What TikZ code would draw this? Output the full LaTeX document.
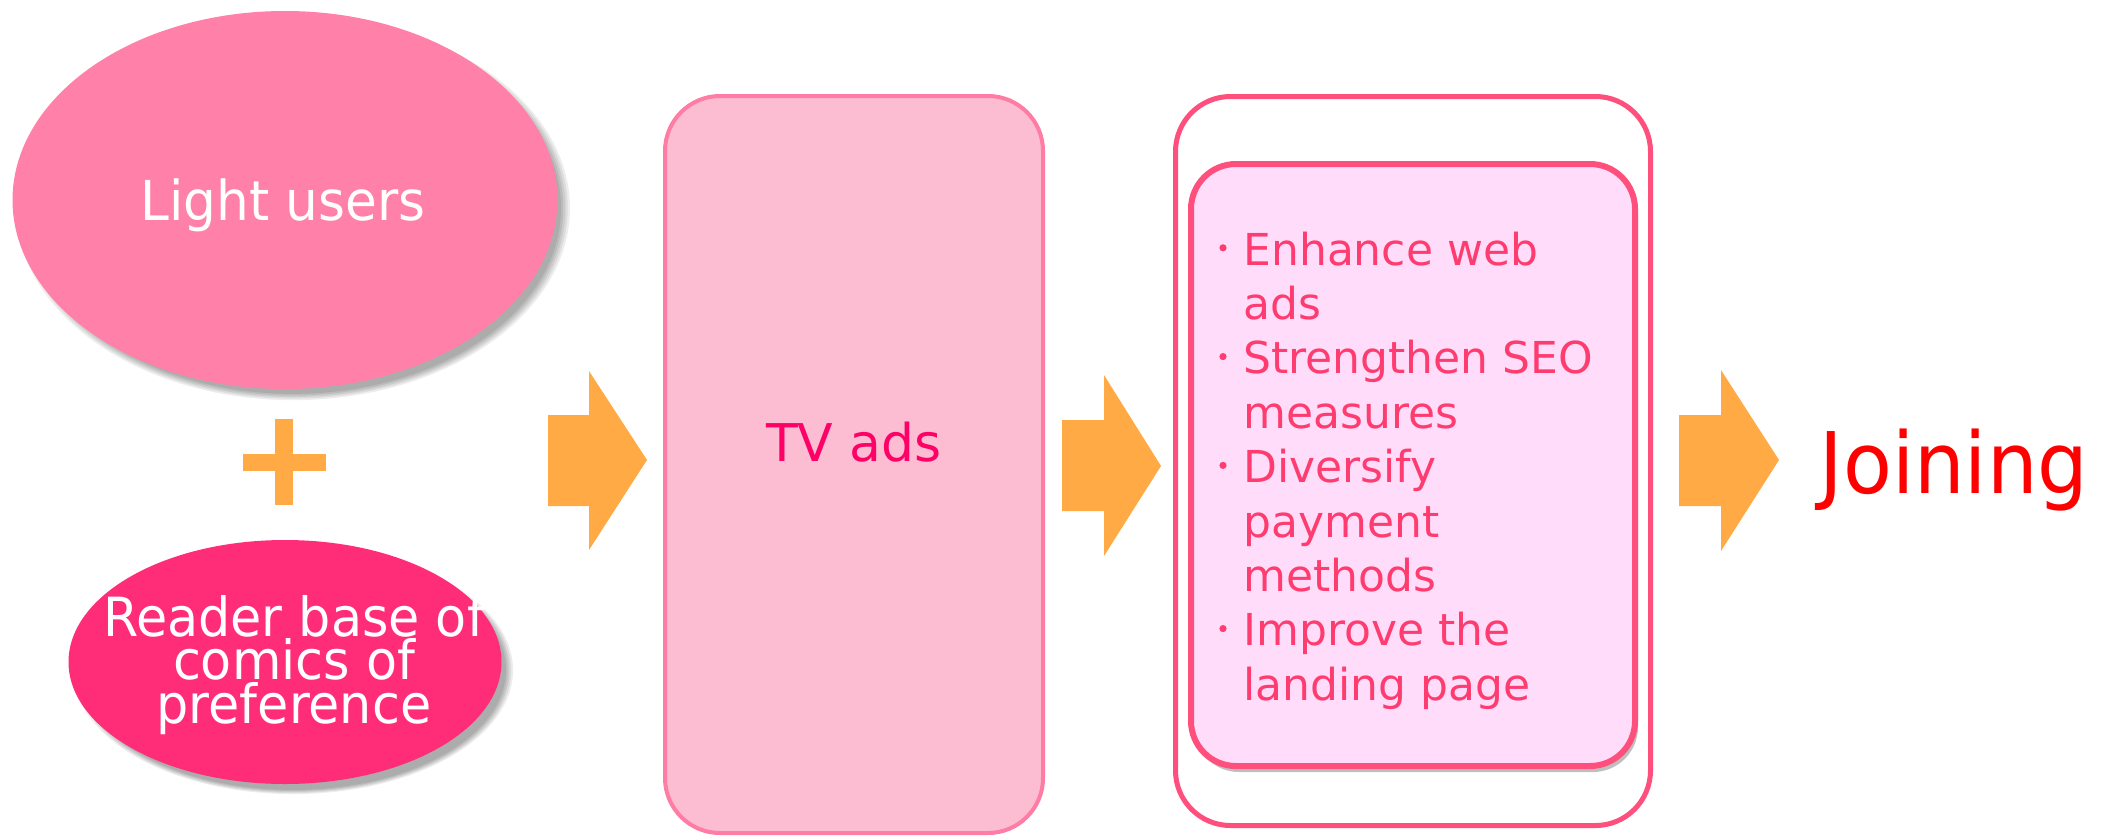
\documentclass[tikz,border=0pt]{standalone}
\usepackage{fontspec}
\setmainfont{DejaVu Sans}
\newfontfamily\narrowsans[FakeStretch=0.94]{DejaVu Sans}
\usetikzlibrary{shapes.geometric,shadows}

\definecolor{lightuser}{RGB}{255,128,168}
\definecolor{readerbase}{RGB}{255,45,120}
\definecolor{flowarrow}{RGB}{255,170,68}
\definecolor{tvfill}{RGB}{252,189,210}
\definecolor{tvborder}{RGB}{255,125,165}
\definecolor{tvtext}{RGB}{255,0,102}
\definecolor{frameline}{RGB}{255,80,125}
\definecolor{listfill}{RGB}{255,221,250}
\definecolor{listtext}{RGB}{255,60,112}
\definecolor{joinred}{RGB}{255,0,0}

% centred lines, baseline of the node = baseline of the first line
\newcommand\centerlines[1]{\vtop{\halign{\hfil##\hfil\cr#1\crcr}}}
% bullet column + text column, baseline = first line
\newcommand\bulletlines[1]{\vtop{\tabskip=0pt\halign{\makebox[14pt][l]{##}&##\hfil\cr#1\crcr}}}
% round list dot, centred at mid x-height
\newcommand\listdot{\hspace*{2pt}\tikz[baseline=-8.6pt]\fill[listtext] (0,0) circle[radius=1.8pt];}

\tikzset{
  softshadow/.style={
    drop shadow={shadow xshift=4pt,shadow yshift=-4pt,shadow scale=1.016,opacity=.07,fill=black},
    drop shadow={shadow xshift=4pt,shadow yshift=-4pt,shadow scale=1.008,opacity=.07,fill=black},
    drop shadow={shadow xshift=4pt,shadow yshift=-4pt,shadow scale=1.0,opacity=.08,fill=black},
    drop shadow={shadow xshift=4pt,shadow yshift=-4pt,shadow scale=0.992,opacity=.08,fill=black},
    drop shadow={shadow xshift=4pt,shadow yshift=-4pt,shadow scale=0.984,opacity=.08,fill=black}},
  groupell/.style={ellipse,inner sep=0pt,softshadow},
  label/.style={inner sep=0pt,anchor=base},
  arrowblock/.style={fill=flowarrow},
  panel/.style={rectangle,inner sep=0pt}
}

\begin{document}
\begin{tikzpicture}[x=0.5pt,y=-0.5pt]
\useasboundingbox (0,0) rectangle (2105,836);

% audience groups
\node[groupell,fill=lightuser,minimum width=272.5pt,minimum height=189pt] (light) at (285,200) {};
\node[label,text=white,font=\narrowsans\fontsize{27.5}{27.5}\selectfont] (lighttxt) at (283,220) {Light users};

\fill[flowarrow] (275,419) rectangle (293,505);
\fill[flowarrow] (243,454) rectangle (326,471);

\node[groupell,fill=readerbase,minimum width=216.5pt,minimum height=122pt] (reader) at (285,662) {};
\node[label,text=white,font=\narrowsans\fontsize{27}{21.75}\selectfont] (readertxt) at (294,636)
  {\centerlines{Reader base of\cr comics of\cr preference}};

% block arrows
\fill[arrowblock] (548,415) -- (589,415) -- (589,371) -- (647,460) -- (589,550) -- (589,506) -- (548,506) -- cycle;
\fill[arrowblock] (1062,420) -- (1104,420) -- (1104,375) -- (1161,466) -- (1104,556) -- (1104,511) -- (1062,511) -- cycle;
\fill[arrowblock] (1679,415) -- (1721,415) -- (1721,370) -- (1779,460) -- (1721,551) -- (1721,506) -- (1679,506) -- cycle;

% TV ads panel
\node[panel,draw=tvborder,line width=2pt,fill=tvfill,rounded corners=27.5pt,
      minimum width=189pt,minimum height=368.5pt] (tv) at (854,464.5) {};
\node[label,text=tvtext,font=\fontsize{26}{26}\selectfont] (tvtxt) at (854,461) {TV ads};

% measures panel
\node[panel,draw=frameline,line width=2.5pt,fill=white,rounded corners=27.5pt,
      minimum width=237.5pt,minimum height=364.5pt] (outer) at (1413,461) {};
\node[panel,draw=frameline,line width=3pt,fill=listfill,rounded corners=22.5pt,
      minimum width=222pt,minimum height=301pt,
      drop shadow={shadow xshift=1.5pt,shadow yshift=-3pt,opacity=.25,fill=black}] (inner) at (1413,465) {};
\node[inner sep=0pt,anchor=base west,text=listtext,font=\fontsize{22}{27.2}\selectfont] (list) at (1215,265)
  {\bulletlines{\listdot&Enhance web\cr &ads\cr \listdot&Strengthen SEO\cr &measures\cr \listdot&Diversify\cr &payment\cr &methods\cr \listdot&Improve the\cr &landing page}};

% outcome
\node[label,text=joinred,font=\narrowsans\fontsize{42.5}{42.5}\selectfont] (joining) at (1954,493) {Joining};
\end{tikzpicture}
\end{document}
